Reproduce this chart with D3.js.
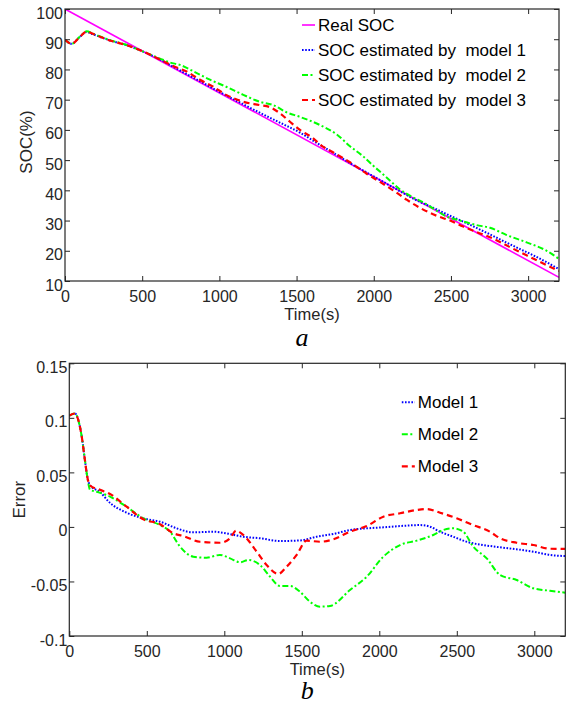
<!DOCTYPE html>
<html>
<head>
<meta charset="utf-8">
<script src="https://cdn.jsdelivr.net/npm/d3@7/dist/d3.min.js"></script>
<style>
    body { margin: 0; background: #fff; }
    svg { display: block; font-family: 'Liberation Sans', Arial, sans-serif; }
    svg text { white-space: pre; }
</style>
</head>
<body>
<div class="socChart"></div>
<script>
// ---- data ----
let xTicks = [0, 500, 1000, 1500, 2000, 2500, 3000];
let socTicks = [10, 20, 30, 40, 50, 60, 70, 80, 90, 100];
let errTicks = [-0.1, -0.05, 0, 0.05, 0.1, 0.15];
let errTickLabels = ['-0.1', '-0.05', '0', '0.05', '0.1', '0.15'];

let socLegend = ['Real SOC', 'SOC estimated by  model 1', 'SOC estimated by  model 2', 'SOC estimated by  model 3'];
let errLegend = ['Model 1', 'Model 2', 'Model 3'];

// panel a: [time, SOC %]
let socReal = [[0, 100], [3200, 11.2]];
let socModel1 = [[0, 89.8], [43, 88.5], [97, 90.8], [140, 92.4], [183, 91.6], [291, 89.6], [400, 88], [507, 85.9],
    [615, 83.3], [700, 80.9], [831, 77.3], [1000, 72.6], [1150, 68.6], [1300, 64.7], [1400, 62.2], [1522, 59.1],
    [1630, 55.7], [1738, 52.4], [1846, 49], [1954, 45.9], [2062, 42.8], [2170, 39.7], [2278, 36.7], [2386, 34.2],
    [2494, 31.6], [2602, 29.1], [2709, 26.5], [2817, 23.8], [2925, 21.1], [3033, 18.5], [3120, 16.2], [3200, 13.9]];
let socModel2 = [[0, 89.8], [43, 88.5], [97, 90.9], [140, 92.6], [183, 91.8], [291, 89.7], [400, 88.1], [507, 85.9],
    [615, 83.6], [680, 82.3], [745, 81.5], [831, 79.4], [939, 76.6], [1047, 74.2], [1155, 71.6], [1263, 69.3],
    [1349, 68.2], [1436, 65.8], [1522, 64.3], [1652, 61.6], [1760, 58.5], [1846, 54.6], [1930, 51.3], [2000, 48],
    [2085, 44.2], [2170, 40.3], [2250, 37.8], [2321, 36], [2400, 33.5], [2470, 31.4], [2558, 30], [2666, 28.5],
    [2753, 27.6], [2861, 25.2], [2990, 22.8], [3120, 20], [3200, 17.3]];
let socModel3 = [[0, 89.8], [43, 88.5], [97, 90.8], [140, 92.5], [183, 91.7], [291, 89.6], [400, 88], [507, 85.9],
    [615, 83.3], [701, 81.1], [788, 79.3], [874, 76.6], [960, 74.3], [1047, 71.5], [1100, 70.3], [1155, 69.3],
    [1263, 68.2], [1328, 67.5], [1392, 65.5], [1457, 62.7], [1522, 60], [1608, 57.2], [1652, 55.2], [1738, 52.5],
    [1846, 49.3], [1954, 45.5], [2040, 42.8], [2126, 40], [2213, 36.9], [2300, 34.2], [2407, 31.6], [2494, 30],
    [2580, 28], [2666, 26.2], [2774, 24], [2882, 21.2], [2990, 18.5], [3098, 15.8], [3200, 13.3]];

// panel b: [time, error]
let errModel1 = [[0, 0.102], [37, 0.104], [58, 0.098], [80, 0.083], [101, 0.061], [116, 0.046], [134, 0.038],
    [198, 0.032], [263, 0.022], [370, 0.013], [478, 0.0078], [585, 0.0048], [693, -0.0013], [800, -0.005],
    [929, -0.0044], [1015, -0.006], [1123, -0.009], [1230, -0.0104], [1359, -0.0129], [1488, -0.0124],
    [1596, -0.009], [1703, -0.0065], [1811, -0.0028], [1919, -0.0013], [2026, -0.0004], [2134, 0.0008],
    [2263, 0.0017], [2327, 0.0002], [2392, -0.0044], [2477, -0.009], [2564, -0.0136], [2671, -0.0166],
    [2779, -0.0187], [2886, -0.0205], [2994, -0.0227], [3101, -0.0257], [3200, -0.0267]];
let errModel2 = [[0, 0.102], [37, 0.104], [58, 0.098], [80, 0.083], [101, 0.061], [116, 0.046], [134, 0.034],
    [177, 0.0323], [263, 0.0277], [370, 0.0185], [478, 0.0078], [585, 0.0017], [650, -0.0044], [714, -0.018],
    [800, -0.0273], [886, -0.0282], [972, -0.0257], [1037, -0.0288], [1101, -0.0324], [1155, -0.0303],
    [1230, -0.0349], [1295, -0.0456], [1359, -0.0541], [1424, -0.0541], [1488, -0.0594], [1553, -0.0686],
    [1617, -0.0731], [1682, -0.0725], [1811, -0.0578], [1919, -0.0456], [2026, -0.0273], [2134, -0.0166],
    [2241, -0.0126], [2348, -0.0074], [2413, -0.0028], [2477, -0.0013], [2542, -0.0044], [2606, -0.018],
    [2693, -0.0288], [2779, -0.0441], [2886, -0.0487], [2994, -0.0563], [3101, -0.0585], [3200, -0.0603]];
let errModel3 = [[0, 0.102], [37, 0.104], [58, 0.098], [80, 0.083], [101, 0.061], [116, 0.046], [134, 0.038],
    [198, 0.034], [263, 0.0302], [370, 0.0185], [478, 0.007], [585, 0.0025], [671, -0.0058], [735, -0.0083],
    [843, -0.0136], [972, -0.0145], [1037, -0.0104], [1076, -0.0035], [1123, -0.0074], [1209, -0.0227],
    [1273, -0.0349], [1348, -0.0432], [1402, -0.0365], [1467, -0.0257], [1531, -0.0126], [1617, -0.0136],
    [1703, -0.0114], [1811, -0.0044], [1919, 0.0008], [2026, 0.0094], [2134, 0.0125], [2241, 0.0155],
    [2306, 0.0164], [2392, 0.013], [2499, 0.0079], [2606, 0.0017], [2714, -0.0044], [2779, -0.0104],
    [2886, -0.0145], [2994, -0.0166], [3101, -0.02], [3200, -0.0202]];

// ---- styles ----
let lineStyles = {
    real: {color: '#ff00ff', width: 1.6, dash: null},
    m1: {color: '#0000ff', width: 2, dash: '1.6,1.6'},
    m2: {color: '#00ff00', width: 2, dash: '6,2.5,2,2.5'},
    m3: {color: '#ff0000', width: 2.2, dash: '6,4'}
};
let axisColor = '#262626';

let svg = d3.select('.socChart').append('svg')
    .attr('width', 570)
    .attr('height', 706);

function drawPanel(cfg) {
    let g = svg.append('g')
        .attr('transform', 'translate(' + cfg.left + ',' + cfg.top + ')');

    let x = d3.scaleLinear().domain([0, 3200]).range([0, cfg.width]);
    let y = d3.scaleLinear().domain(cfg.yDomain).range([cfg.height, 0]);

    // curves, clipped to the plot box
    let clipId = 'clip-' + cfg.name;
    g.append('clipPath').attr('id', clipId)
        .append('rect').attr('width', cfg.width).attr('height', cfg.height);

    let valueLine = d3.line()
        .x(function(d) { return x(d[0]); })
        .y(function(d) { return y(d[1]); })
        .curve(d3.curveMonotoneX);

    cfg.series.forEach((s) => {
        let st = lineStyles[s.style];
        g.append('path')
            .attr('clip-path', 'url(#' + clipId + ')')
            .datum(s.data)
            .attr('d', valueLine)
            .attr('fill', 'none')
            .attr('stroke', st.color)
            .attr('stroke-width', st.width)
            .attr('stroke-dasharray', st.dash);
    });

    // axes, ticks point inwards
    let xAxisGroup = g.append('g')
        .attr('transform', 'translate(0,' + cfg.height + ')')
        .call(d3.axisBottom(x).tickValues(xTicks).tickSize(-5).tickFormat(d3.format('d')));
    xAxisGroup.selectAll('text').attr('y', 21).attr('dy', null);

    g.append('g')
        .call(d3.axisTop(x).tickValues(xTicks).tickSize(-5).tickFormat(''));

    let yAxisGroup = g.append('g')
        .call(d3.axisLeft(y).tickValues(cfg.yTicks).tickSize(-5)
            .tickFormat(function(d, i) { return cfg.yLabels[i]; }));
    yAxisGroup.selectAll('text').attr('x', cfg.yLabelX).attr('dy', 9);

    g.append('g')
        .attr('transform', 'translate(' + cfg.width + ',0)')
        .call(d3.axisRight(y).tickValues(cfg.yTicks).tickSize(-5).tickFormat(''));

    g.selectAll('.domain').remove();
    g.selectAll('.tick line').attr('stroke', axisColor);
    g.selectAll('.tick text')
        .attr('fill', axisColor)
        .style('font-size', '16px')
        .style('font-family', "'Liberation Sans', Arial, sans-serif");

    g.append('rect')
        .attr('width', cfg.width)
        .attr('height', cfg.height)
        .attr('fill', 'none')
        .attr('stroke', axisColor)
        .attr('stroke-width', 1.2);

    // axis titles
    g.append('text')
        .attr('x', cfg.width / 2)
        .attr('y', cfg.height + 39)
        .attr('text-anchor', 'middle')
        .attr('fill', axisColor)
        .style('font-size', '16.5px')
        .text('Time(s)');

    g.append('text')
        .attr('transform', 'translate(' + cfg.yTitleX + ',' + (cfg.height / 2 + cfg.yTitleShift) + ') rotate(-90)')
        .attr('text-anchor', 'middle')
        .attr('fill', axisColor)
        .style('font-size', '17px')
        .text(cfg.yTitle);

    // panel letter
    g.append('text')
        .attr('x', cfg.width / 2 - 10)
        .attr('y', cfg.height + cfg.letterY)
        .attr('text-anchor', 'middle')
        .style('font-family', "'Liberation Serif', 'Times New Roman', serif")
        .style('font-style', 'italic')
        .style('font-size', '26px')
        .text(cfg.letter);

    // legend
    cfg.series.forEach((s, i) => {
        let st = lineStyles[s.style];
        let ly = cfg.legend.y + i * cfg.legend.step;
        g.append('line')
            .attr('x1', cfg.legend.x)
            .attr('x2', cfg.legend.x + 13)
            .attr('y1', ly)
            .attr('y2', ly)
            .attr('stroke', st.color)
            .attr('stroke-width', st.width)
            .attr('stroke-dasharray', st.dash);
        g.append('text')
            .attr('x', cfg.legend.x + 16)
            .attr('y', ly + 6)
            .attr('fill', '#000')
            .style('font-size', '17px')
            .text(cfg.legendLabels[i]);
    });
}

drawPanel({
    name: 'soc',
    left: 65, top: 9, width: 494, height: 272,
    yDomain: [10, 100],
    yTicks: socTicks,
    yLabels: socTicks.map(String),
    yLabelX: -2,
    yTitle: 'SOC(%)', yTitleX: -33, yTitleShift: -3,
    letter: 'a', letterY: 65,
    series: [
        {style: 'real', data: socReal},
        {style: 'm1', data: socModel1},
        {style: 'm2', data: socModel2},
        {style: 'm3', data: socModel3}
    ],
    legendLabels: socLegend,
    legend: {x: 237, y: 16, step: 25}
});

drawPanel({
    name: 'err',
    left: 69.3, top: 363.3, width: 496, height: 272.7,
    yDomain: [-0.1, 0.15],
    yTicks: errTicks,
    yLabels: errTickLabels,
    yLabelX: -2,
    yTitle: 'Error', yTitleX: -44, yTitleShift: 0,
    letter: 'b', letterY: 63,
    series: [
        {style: 'm1', data: errModel1},
        {style: 'm2', data: errModel2},
        {style: 'm3', data: errModel3}
    ],
    legendLabels: errLegend,
    legend: {x: 332.5, y: 39, step: 32}
});
</script>
</body>
</html>
